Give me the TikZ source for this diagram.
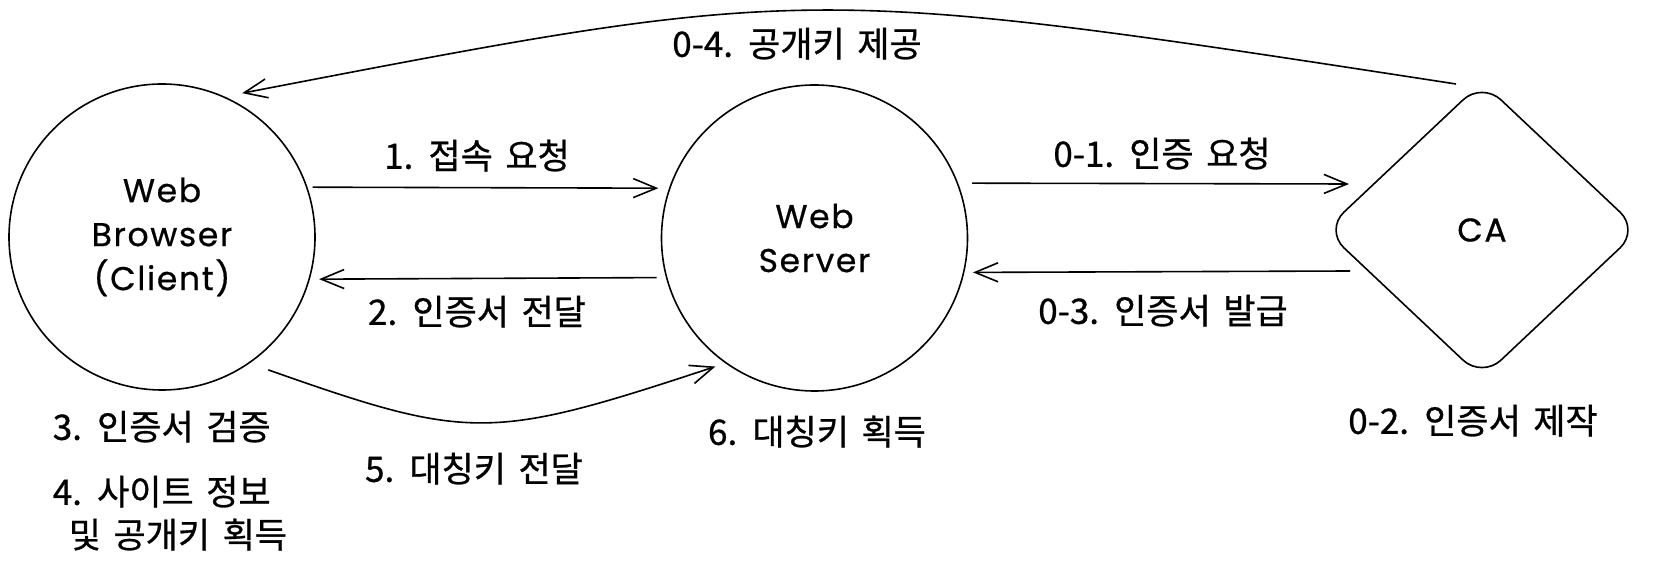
\documentclass[tikz,border=0pt]{standalone}
\usepackage{fontspec}
\setmainfont{Noto Sans CJK KR}
\newfontfamily\korf[FakeBold=0.8,WordSpace=1.6]{Noto Sans CJK KR}
\newfontfamily\latinf[LetterSpace=5,FakeBold=0.6]{Poppins}
\usetikzlibrary{arrows.meta,shapes.geometric}
\begin{document}
\begin{tikzpicture}[x=1pt,y=1pt,
  line width=1.6pt,
  arr/.style={-{Straight Barb[length=23pt,width=19pt]}},
  circ/.style={circle,draw,minimum size=306pt,inner sep=0pt,outer sep=0pt,
    align=center,font=\latinf\fontsize{33}{44}\selectfont},
  lbl/.style={font=\korf\fontsize{35}{42}\selectfont,inner sep=0pt,text height=0.8em,text depth=0.04em,yshift=-8pt}
]
\useasboundingbox (0,0) rectangle (1658,573);

\node[circ] (wb) at (162,336) {Web\\Browser\\(Client)};
\node[circ] (ws) at (814.5,335) {Web\\Server};
\node[diamond,draw,minimum width=314pt,minimum height=296pt,inner sep=0pt,outer sep=0pt,
  rounded corners=26pt,font=\latinf\fontsize{33}{44}\selectfont] (ca) at (1482,343) {CA};

% arrows
\draw[arr] ([xshift=6pt]wb.19) -- ([xshift=-11.5pt]ws.161);
\draw[arr] ([xshift=-10pt]ws.195) -- ([xshift=10pt]wb.-16);
\draw[arr] ([xshift=14.7pt]ws.21) -- ([xshift=24pt,yshift=46pt]ca.west);
\draw[arr] ([xshift=25pt,yshift=-41pt]ca.west) -- ([xshift=9.4pt]ws.-13);
\draw[arr] ([xshift=-26pt,yshift=-2pt]ca.north) .. controls (806,589) and (809,589) .. ([xshift=6pt,yshift=10pt]wb.61);
\draw[arr] ([xshift=10pt,yshift=-14pt]wb.-51) .. controls (470,132) and (490,132) .. ([xshift=-5pt,yshift=-8pt]ws.232);

% labels
\node[lbl] (l04) at (797,528) {0-4. 공개키 제공};
\node[lbl] (l1) at (477,416) {1. 접속 요청};
\node[lbl] (l2) at (477,260) {2. 인증서 전달};
\node[lbl] (l01) at (1162,418) {0-1. 인증 요청};
\node[lbl] (l03) at (1163,261) {0-3. 인증서 발급};
\node[lbl] (l02) at (1473,151) {0-2. 인증서 제작};
\node[lbl] (l6) at (817,140) {6. 대칭키 획득};
\node[lbl] (l5) at (474,103) {5. 대칭키 전달};
\node[lbl,anchor=west] (l3) at (52,145) {3. 인증서 검증};
\node[lbl,anchor=west] (l4a) at (52,80) {4. 사이트 정보};
\node[lbl,anchor=west] (l4b) at (68,37) {및 공개키 획득};
\end{tikzpicture}
\end{document}
